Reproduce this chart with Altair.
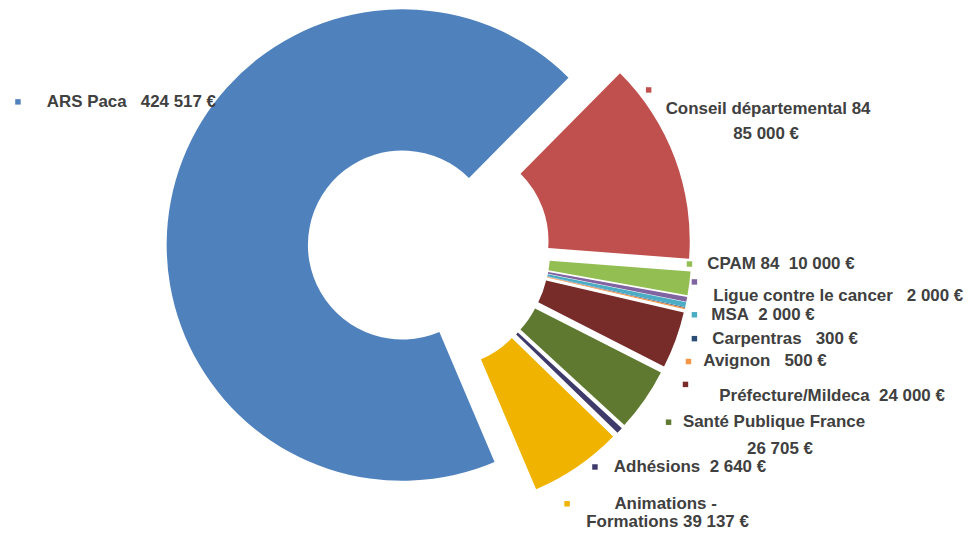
import altair as alt
import pandas as pd

# ---------------- data ----------------
names = ["ARS Paca", "Conseil départemental 84", "CPAM 84", "Ligue contre le cancer",
         "MSA", "Carpentras", "Avignon", "Préfecture/Mildeca", "Santé Publique France",
         "Adhésions", "Animations - Formations"]
values = [424517, 85000, 10000, 2000, 2000, 300, 500, 24000, 26705, 2640, 39137]

# label text lines as printed on the chart
label_text = ["ARS Paca   424 517 €", "Conseil départemental 84", "85 000 €",
              "CPAM 84  10 000 €", "Ligue contre le cancer   2 000 €", "MSA  2 000 €",
              "Carpentras   300 €", "Avignon   500 €", "Préfecture/Mildeca  24 000 €",
              "Santé Publique France", "26 705 €", "Adhésions  2 640 €",
              "Animations -", "Formations 39 137 €"]

# ---------------- style / layout ----------------
palette = ["#4F81BD", "#C0504D", "#93BE52", "#8064A2", "#4BACC6", "#2C4D75",
           "#F79646", "#772C2A", "#5F7A30", "#3E3B6B", "#F0B400"]

W, H = 964, 523
CX, CY = 423, 242          # donut centre in plot pixels
EXPLODE = 27               # point explosion distance
R_OUT, R_IN = 237, 95
START_DEG = 157            # angle of first slice

label_x = [39, 764, 762, 703, 709, 707, 708, 699, 715, 770, 776, 609, 661, 663]
label_y = [93, 100, 125, 256, 288, 307, 331, 354, 389, 415, 442, 460, 497, 515]
label_align = ["left", "center", "center", "left", "left", "left", "left", "left",
               "left", "center", "center", "left", "center", "center"]
marker_x = [10, 644, 685, 690, 690, 690, 684, 681, 664, 590, 562]
marker_y = [93, 81, 256, 274, 307, 331, 354, 377, 415, 460, 497]

FONT = "Liberation Sans, Arial, sans-serif"
TXT = "#404040"

# ---------------- tables ----------------
slices = pd.DataFrame({"name": names, "value": values, "order": list(range(len(names)))})
markers_df = pd.DataFrame({"name": names, "mx": marker_x, "my": marker_y})
labels_df = pd.DataFrame({
    "text": [t.replace(" ", "\u00a0") for t in label_text],
    "lx": label_x, "ly": label_y, "align": label_align,
})

xs = alt.Scale(domain=[0, W], nice=False, zero=False)
ys = alt.Scale(domain=[0, H], nice=False, zero=False, reverse=True)
color = alt.Color("name:N", scale=alt.Scale(domain=names, range=palette), legend=None)

start = f"({START_DEG}*PI/180)"
arcs = (
    alt.Chart(slices)
    .transform_window(cum="sum(value)", sort=[alt.SortField("order")], frame=[None, 0])
    .transform_joinaggregate(total="sum(value)")
    .transform_calculate(a0=f"{start} + 2*PI*(datum.cum - datum.value)/datum.total")
    .transform_calculate(a1=f"{start} + 2*PI*datum.cum/datum.total")
    .transform_calculate(mid="(datum.a0 + datum.a1)/2")
    .transform_calculate(px=f"{CX} + {EXPLODE}*sin(datum.mid)")
    .transform_calculate(py=f"{CY} - {EXPLODE}*cos(datum.mid)")
    .mark_arc(radius=R_OUT, radius2=R_IN)
    .encode(
        x=alt.X("px:Q", scale=xs, axis=None),
        y=alt.Y("py:Q", scale=ys, axis=None),
        theta=alt.Theta("a0:Q", scale=None, stack=None),
        theta2="a1:Q",
        color=color,
    )
)

markers = alt.Chart(markers_df).mark_square(size=30, opacity=1).encode(
    x=alt.X("mx:Q", scale=xs, axis=None),
    y=alt.Y("my:Q", scale=ys, axis=None),
    color=color,
)

def text_layer(al):
    return (
        alt.Chart(labels_df)
        .transform_filter(alt.datum.align == al)
        .mark_text(align=al, baseline="middle", font=FONT, fontSize=17,
                   fontWeight="bold", color=TXT)
        .encode(
            x=alt.X("lx:Q", scale=xs, axis=None),
            y=alt.Y("ly:Q", scale=ys, axis=None),
            text="text:N",
        )
    )

chart = (
    alt.layer(arcs, markers, text_layer("left"), text_layer("center"))
    .properties(width=W, height=H, padding=0,
                autosize=alt.AutoSizeParams(type="none"))
    .configure_view(stroke=None)
)

chart.save("out.html", embed_options={"renderer": "svg", "actions": False})
